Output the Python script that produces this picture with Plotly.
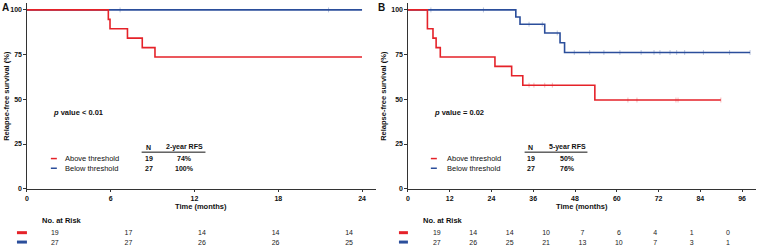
import plotly.graph_objects as go

W, H = 758, 250

# ---------------- data ----------------
# Panel A (2-year)
a_red_t = [0, 5.83, 5.95, 7.2, 8.26, 9.17, 24]
a_red_s = [100, 94.7, 89.5, 84.2, 78.9, 73.7, 73.7]
a_red_cens = []
a_blue_t = [0, 24]
a_blue_s = [100, 100]
a_blue_cens = [6.67, 21.6]

# Panel B (5-year)
b_red_t = [0, 5.6, 7.2, 8.1, 9.3, 25.0, 29.8, 33.0, 53.7, 89.9]
b_red_s = [100, 89.5, 84.2, 78.9, 73.7, 68.4, 63.2, 57.9, 49.6, 49.6]
b_red_cens = [34.8, 36.2, 39.3, 41.5, 63.2, 65.8, 77.0, 77.6, 89.9]
b_blue_t = [0, 31.0, 32.2, 39.3, 43.7, 45.0, 98.3]
b_blue_s = [100, 96.0, 92.0, 87.1, 81.6, 76.2, 76.2]
b_blue_cens = [6.6, 21.7, 34.8, 38.6, 42.9, 47.8, 52.2, 56.3, 60.9, 67.0,
               70.7, 72.4, 75.3, 77.2, 79.5, 84.9, 92.4, 98.3]

groups = ["Above threshold", "Below threshold"]
group_n = [19, 27]
a_rfs = ["74%", "100%"]
b_rfs = ["50%", "76%"]
a_p = "<i>p</i> value &lt; 0.01"
b_p = "<i>p</i> value = 0.02"

a_ticks = [0, 6, 12, 18, 24]
b_ticks = [0, 12, 24, 36, 48, 60, 72, 84, 96]
y_ticks = [0, 25, 50, 75, 100]

a_risk_red = [19, 17, 14, 14, 14]
a_risk_blue = [27, 27, 26, 26, 25]
b_risk_red = [19, 14, 14, 10, 7, 6, 4, 1, 0]
b_risk_blue = [27, 26, 25, 21, 13, 10, 7, 3, 1]

RED = "#e52229"
BLUE = "#2b4e9b"
AX = "#333333"
FONT = "Liberation Sans, Arial, sans-serif"


def px(x):
    return x / W


def py(y):
    return 1 - y / H


def step_at(ts, ss, t):
    v = ss[0]
    for ti, si in zip(ts, ss):
        if ti <= t:
            v = si
    return v


fig = go.Figure()


def add_curve(ts, ss, cens, color, xa, ya):
    fig.add_trace(go.Scatter(x=ts, y=ss, mode="lines", line=dict(color=color, width=1.6, shape="hv"),
                             xaxis=xa, yaxis=ya, showlegend=False, hoverinfo="skip"))
    if cens:
        fig.add_trace(go.Scatter(x=cens, y=[step_at(ts, ss, c) for c in cens], mode="markers",
                                 marker=dict(symbol="line-ns", size=3.5, line=dict(color=color, width=0.6),
                                             opacity=0.55),
                                 xaxis=xa, yaxis=ya, showlegend=False, hoverinfo="skip", cliponaxis=False))


add_curve(a_blue_t, a_blue_s, a_blue_cens, BLUE, "x", "y")
add_curve(a_red_t, a_red_s, a_red_cens, RED, "x", "y")
add_curve(b_blue_t, b_blue_s, b_blue_cens, BLUE, "x2", "y2")
add_curve(b_red_t, b_red_s, b_red_cens, RED, "x2", "y2")

# risk tables
for xa, ticks, red, blue in [("x3", a_ticks, a_risk_red, a_risk_blue), ("x4", b_ticks, b_risk_red, b_risk_blue)]:
    fig.add_trace(go.Scatter(x=ticks, y=[1] * len(ticks), text=[str(v) for v in red], mode="text",
                             textfont=dict(size=7, color="#222", family=FONT), xaxis=xa, yaxis="y3",
                             showlegend=False, hoverinfo="skip", cliponaxis=False))
    fig.add_trace(go.Scatter(x=ticks, y=[0] * len(ticks), text=[str(v) for v in blue], mode="text",
                             textfont=dict(size=7, color="#222", family=FONT), xaxis=xa, yaxis="y3",
                             showlegend=False, hoverinfo="skip", cliponaxis=False))

ydom = [py(191), py(2.8)]
tickfont = dict(size=7, family=FONT, color="#111", weight="bold")
common_x = dict(showgrid=False, zeroline=False, showline=True, linecolor=AX, linewidth=1.2,
                ticks="outside", ticklen=2.5, tickwidth=1, tickcolor=AX, tickfont=tickfont, fixedrange=True)
common_y = dict(showgrid=False, zeroline=False, showline=True, linecolor=AX, linewidth=1.2,
                ticks="outside", ticklen=2.5, tickwidth=1, tickcolor=AX, tickfont=tickfont,
                range=[0, 104], tickvals=y_ticks, domain=ydom, fixedrange=True)

hidden = dict(visible=False, showgrid=False, zeroline=False, fixedrange=True)

fig.update_layout(
    width=W, height=H, margin=dict(l=0, r=0, t=0, b=0),
    paper_bgcolor="white", plot_bgcolor="white",
    xaxis=dict(common_x, domain=[px(25), px(375)], range=[0, 25], tickvals=a_ticks, anchor="y"),
    yaxis=dict(common_y, anchor="x"),
    xaxis2=dict(common_x, domain=[px(407), px(756)], range=[0, 100], tickvals=b_ticks, anchor="y2"),
    yaxis2=dict(common_y, anchor="x2"),
    xaxis3=dict(hidden, domain=[px(53), px(348)], range=[0, 24], anchor="y3"),
    xaxis4=dict(hidden, domain=[px(436), px(728)], range=[0, 96], anchor="y3"),
    yaxis3=dict(hidden, domain=[0, 0.1], range=[-0.42, 2.21], anchor="x3"),
    font=dict(family=FONT),
)

ann = []
shapes = []


def txt(x, y, s, size=7.5, anchor="center", bold=False, color="#111", angle=0):
    ann.append(dict(x=px(x), y=py(y), xref="paper", yref="paper", text=("<b>%s</b>" % s) if bold else s,
                    showarrow=False, xanchor=anchor, yanchor="middle", textangle=angle,
                    font=dict(size=size, family=FONT, color=color)))


panels = [
    dict(off=0, label="A", lx=3.5, yt=5, xt=200, p=a_p, px0=49, rfs_head="2-year RFS", rfs=a_rfs,
         leg=49, legt=61, ncol=147, rcol=183, line=(140, 204), nar=38, bar=(15, 25)),
    dict(off=378, label="B", lx=2.5, yt=5, xt=581.5 - 378, p=b_p, px0=53, rfs_head="5-year RFS", rfs=b_rfs,
         leg=52, legt=66, ncol=152, rcol=189, line=(146, 209), nar=42, bar=(20, 29)),
]

for P in panels:
    o = P["off"]
    txt(o + P["lx"], 8, P["label"], size=10, bold=True)
    txt(o + P["yt"], 97, "Relapse-free survival (%)", size=7.5, bold=True, angle=-90)
    txt(o + P["xt"], 209, "Time (months)", size=7.5, bold=True)
    txt(o + P["px0"], 114, P["p"], size=7.5, anchor="left", bold=True)
    # legend + table
    txt(o + P["ncol"], 149, "N", size=7, bold=True)
    txt(o + P["rcol"], 149, P["rfs_head"], size=7, bold=True)
    shapes.append(dict(type="line", xref="paper", yref="paper", x0=px(o + P["line"][0]), x1=px(o + P["line"][1]),
                       y0=py(154), y1=py(154), line=dict(color="#111", width=1)))
    for i, (g, c) in enumerate(zip(groups, [RED, BLUE])):
        yy = 160.5 + i * 9.8
        shapes.append(dict(type="line", xref="paper", yref="paper", x0=px(o + P["leg"]), x1=px(o + P["leg"] + 6),
                           y0=py(yy), y1=py(yy), line=dict(color=c, width=1.5)))
        txt(o + P["legt"], yy, g, size=7.5, anchor="left")
        txt(o + P["ncol"], yy, str(group_n[i]), size=7, bold=True)
        txt(o + P["rcol"], yy, P["rfs"][i], size=7, bold=True)
    txt(o + P["nar"], 223, "No. at Risk", size=7.5, anchor="left", bold=True)
    for i, c in enumerate([RED, BLUE]):
        yy = 235.5 + i * 9.5
        shapes.append(dict(type="line", xref="paper", yref="paper", x0=px(o + P["bar"][0]), x1=px(o + P["bar"][1]),
                           y0=py(yy), y1=py(yy), line=dict(color=c, width=3)))

fig.update_layout(annotations=ann, shapes=shapes)
fig.write_html("out.html")
